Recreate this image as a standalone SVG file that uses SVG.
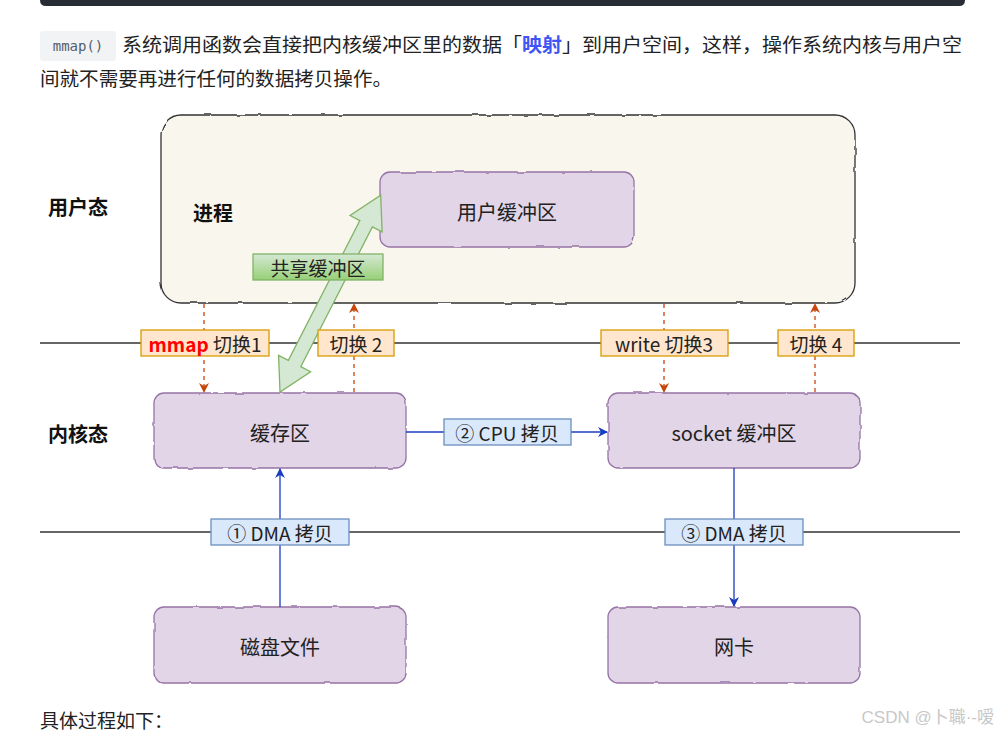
<svg xmlns="http://www.w3.org/2000/svg" width="998" height="735" viewBox="0 0 998 735">
<defs>
<style>
.cn{font-family:"Noto Sans CJK SC","Noto Sans",sans-serif;}
.body{font-family:"Noto Sans CJK SC","Noto Sans",sans-serif;font-size:19px;fill:#222;}
.node{fill:#e1d5e7;stroke:#9673a6;stroke-width:1.3;}
.nt{font-family:"Noto Sans CJK SC","Noto Sans",sans-serif;font-size:20px;fill:#222;text-anchor:middle;dominant-baseline:central;}
.side{font-family:"Noto Sans CJK SC","Noto Sans",sans-serif;font-size:20px;font-weight:bold;fill:#111;dominant-baseline:central;}
.sw{fill:#ffe6cc;stroke:#d79b00;stroke-width:1.3;}
.cp{fill:#dae8fc;stroke:#6c8ebf;stroke-width:1.3;}
.lt{font-family:"Noto Sans CJK SC","Noto Sans",sans-serif;font-size:19px;fill:#222;text-anchor:middle;dominant-baseline:central;}
.dash{stroke:#c9460a;stroke-width:1.3;stroke-dasharray:4 4;fill:none;}
.blue{stroke:#1a3cc0;stroke-width:1.3;fill:none;}
.hl{stroke:#333;stroke-width:1.5;}
</style>
<marker id="ao" viewBox="0 0 10 10" refX="9" refY="5" markerWidth="10" markerHeight="10" markerUnits="userSpaceOnUse" orient="auto"><path d="M0,0 L10,5 L0,10 L3,5 z" fill="#c9460a"/></marker>
<marker id="ab" viewBox="0 0 10 10" refX="9" refY="5" markerWidth="10" markerHeight="10" markerUnits="userSpaceOnUse" orient="auto"><path d="M0,0 L10,5 L0,10 L3,5 z" fill="#1a3cc0"/></marker>
<linearGradient id="gg" x1="0" y1="0" x2="0" y2="1"><stop offset="0" stop-color="#d5e8d4"/><stop offset="1" stop-color="#97d077"/></linearGradient>
<filter id="rough" x="-5%" y="-5%" width="110%" height="110%"><feTurbulence type="fractalNoise" baseFrequency="0.06" numOctaves="2" seed="3"/><feDisplacementMap in="SourceGraphic" scale="2.5"/></filter>
</defs>
<rect width="998" height="735" fill="#ffffff"/>

<!-- page header -->
<path d="M40,0 H965 V0 Q965,6 959,6 H46 Q40,6 40,0 z" fill="#282c34"/>
<rect x="40" y="31" width="76" height="30" rx="3" fill="#f2f3f4"/>
<text x="78" y="51" font-family="'DejaVu Sans Mono','Liberation Mono',monospace" font-size="14" fill="#555e6b" text-anchor="middle">mmap()</text>
<text class="body" x="122" y="52" textLength="840" lengthAdjust="spacingAndGlyphs">系统调用函数会直接把内核缓冲区里的数据「<tspan fill="#3d55f5" font-weight="bold">映射</tspan>」到用户空间，这样，操作系统内核与用户空</text>
<text class="body" x="40" y="86" textLength="352" lengthAdjust="spacingAndGlyphs">间就不需要再进行任何的数据拷贝操作。</text>

<!-- process container -->
<g id="process">
<rect x="161" y="115" width="694" height="188" rx="20" fill="#f9f7ed" stroke="#333" stroke-width="1.3" filter="url(#rough)"/>
<text class="side" x="193" y="212">进程</text>
</g>

<g id="user-mode-label"><text class="side" x="48" y="206">用户态</text></g>
<g id="kernel-mode-label"><text class="side" x="48" y="433">内核态</text></g>

<!-- horizontal divider lines -->
<g id="dividers">
<line class="hl" x1="40" y1="343" x2="960" y2="343"/>
<line class="hl" x1="40" y1="532" x2="960" y2="532"/>
</g>

<g id="user-buffer">
<rect class="node" x="380" y="172" width="254" height="75" rx="10" filter="url(#rough)"/>
<text class="nt" x="507" y="211">用户缓冲区</text>
</g>

<g id="cache">
<rect class="node" x="154" y="393" width="252" height="75" rx="10" filter="url(#rough)"/>
<text class="nt" x="280" y="432">缓存区</text>
</g>

<g id="socket-buffer">
<rect class="node" x="608" y="393" width="252" height="75" rx="10" filter="url(#rough)"/>
<text class="nt" x="734" y="432">socket 缓冲区</text>
</g>

<g id="disk">
<rect class="node" x="154" y="607" width="252" height="76" rx="10" filter="url(#rough)"/>
<text class="nt" x="280" y="646">磁盘文件</text>
</g>

<g id="nic">
<rect class="node" x="608" y="607" width="252" height="76" rx="10" filter="url(#rough)"/>
<text class="nt" x="734" y="646">网卡</text>
</g>

<!-- connectors -->
<g id="connectors">
<line class="dash" x1="204" y1="304" x2="204" y2="392" marker-end="url(#ao)"/>
<line class="dash" x1="354" y1="392" x2="354" y2="304" marker-end="url(#ao)"/>
<line class="dash" x1="664" y1="304" x2="664" y2="392" marker-end="url(#ao)"/>
<line class="dash" x1="815" y1="392" x2="815" y2="304" marker-end="url(#ao)"/>
<line class="blue" x1="406" y1="432" x2="607" y2="432" marker-end="url(#ab)"/>
<line class="blue" x1="280" y1="607" x2="280" y2="469" marker-end="url(#ab)"/>
<line class="blue" x1="734" y1="468" x2="734" y2="606" marker-end="url(#ab)"/>
<g transform="translate(280,392) rotate(-62.9)">
<polygon points="0,0 32,-18 32,-7 189,-7 189,-18 221,0 189,18 189,7 32,7 32,18" fill="#d5e8d4" stroke="#82b366" stroke-width="1.3" stroke-linejoin="miter"/>
</g>
</g>

<!-- labels -->
<g id="shared-label">
<rect x="253" y="254" width="130" height="26" fill="url(#gg)" stroke="#82b366" stroke-width="1.3"/>
<text class="lt" x="318" y="267">共享缓冲区</text>
</g>
<g id="switch1">
<rect class="sw" x="141" y="330" width="128" height="26"/>
<text class="lt" x="205" y="343"><tspan fill="#ff0000" font-weight="bold">mmap</tspan> 切换1</text>
</g>
<g id="switch2">
<rect class="sw" x="318" y="330" width="76" height="26"/>
<text class="lt" x="356" y="343">切换 2</text>
</g>
<g id="switch3">
<rect class="sw" x="601" y="330" width="127" height="26"/>
<text class="lt" x="664" y="343">write 切换3</text>
</g>
<g id="switch4">
<rect class="sw" x="778" y="330" width="76" height="26"/>
<text class="lt" x="816" y="343">切换 4</text>
</g>
<g id="cpu-copy">
<rect class="cp" x="444" y="419" width="127" height="26"/>
<text class="lt" x="507" y="432">② CPU 拷贝</text>
</g>
<g id="dma-copy-1">
<rect class="cp" x="211" y="519" width="138" height="26"/>
<text class="lt" x="280" y="532">① DMA 拷贝</text>
</g>
<g id="dma-copy-3">
<rect class="cp" x="665" y="519" width="138" height="26"/>
<text class="lt" x="734" y="532">③ DMA 拷贝</text>
</g>

<text class="body" x="40" y="728">具体过程如下：</text>
<text x="994" y="723" font-family="'Liberation Sans','Noto Sans CJK SC',sans-serif" font-size="17" fill="#c8c8c8" text-anchor="end">CSDN @卜職·-嗳</text>
</svg>
